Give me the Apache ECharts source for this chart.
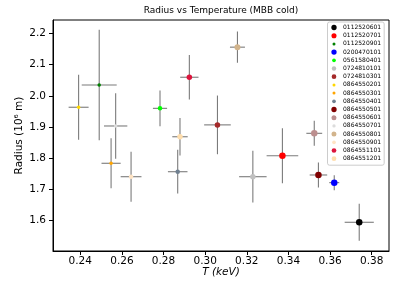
<!DOCTYPE html>
<html>
<head>
<meta charset="utf-8">
<script src="https://cdn.jsdelivr.net/npm/echarts@6/dist/echarts.min.js"></script>
<style>
html,body{margin:0;padding:0;background:#fff;}
#chart{width:395px;height:282px;}
</style>
</head>
<body>
<div id="chart"></div>
<script>
// ---- data ----
const obsIds = ['0112520601','0112520701','0112520901','0200470101','0561580401','0724810101','0724810301','0864550201','0864550301','0864550401','0864550501','0864550601','0864550701','0864550801','0864550901','0864551101','0864551201'];
const temperature    = [0.374, 0.3371, 0.2491, 0.362, 0.2783, 0.3229, 0.3059, 0.2392, 0.2548, 0.2868, 0.3544, 0.3524, 0.2570, 0.3155, 0.2644, 0.2924, 0.2879];
const temperatureErr = [0.007, 0.0076, 0.0084, 0.0024, 0.0034, 0.0066, 0.0064, 0.0048, 0.0046, 0.0047, 0.0042, 0.0038, 0.0056, 0.0036, 0.0050, 0.0044, 0.0037];
const radius         = [1.595, 1.808, 2.035, 1.722, 1.960, 1.741, 1.907, 1.9635, 1.784, 1.757, 1.7465, 1.880, 1.9035, 2.156, 1.741, 2.0596, 1.869];
const radiusErr      = [0.059, 0.088, 0.177, 0.024, 0.057, 0.083, 0.094, 0.104, 0.080, 0.070, 0.040, 0.040, 0.105, 0.050, 0.080, 0.071, 0.060];
const xTicks = [0.24, 0.26, 0.28, 0.30, 0.32, 0.34, 0.36, 0.38];
const yTicks = [1.6, 1.7, 1.8, 1.9, 2.0, 2.1, 2.2];

// ---- styles ----
const pointColors = ['#000000','#ff0000','#008000','#0000ff','#00ff00','#c0c0c0','#a52a2a','#ffd700','#ffa500','#708090','#800000','#bc8f8f','#dcdcdc','#d2b48c','#ffe4c4','#dc143c','#ffdead'];
const markerSizes = [6.5, 6.5, 3.5, 6.5, 4.5, 5.5, 5.5, 3.5, 3.5, 4.5, 6.5, 6.5, 3.5, 6, 4.5, 5.5, 5.5];
const legendSizes = [5.3, 5.1, 3.0, 5.3, 3.7, 4.4, 4.7, 3.0, 3.0, 3.7, 5.3, 5.0, 3.3, 5.0, 3.7, 4.7, 4.7];

const FONT = 'DejaVu Sans';

function legendIcon(d) {
  const r = d / 1.4;
  const a = (5 - r).toFixed(3), b = (5 + r).toFixed(3), rr = r.toFixed(3);
  return 'path://M0 0M10 10M' + a + ' 5A' + rr + ' ' + rr + ' 0 1 0 ' + b + ' 5A' + rr + ' ' + rr + ' 0 1 0 ' + a + ' 5Z';
}

const chart = echarts.init(document.getElementById('chart'), null, {renderer: 'canvas'});

const errData = obsIds.map((id, i) => [temperature[i], radius[i], temperatureErr[i], radiusErr[i]]);

const series = [{
  type: 'custom',
  name: 'errors',
  z: 1,
  silent: true,
  encode: {x: 0, y: 1},
  data: errData,
  renderItem: function (params, api) {
    const t = api.value(0), r = api.value(1), te = api.value(2), re = api.value(3);
    const pL = api.coord([t - te, r]), pR = api.coord([t + te, r]);
    const pT = api.coord([t, r + re]), pB = api.coord([t, r - re]);
    const style = {stroke: 'rgba(100,100,100,0.85)', lineWidth: 1.1};
    return {
      type: 'group',
      children: [
        {type: 'line', shape: {x1: pL[0], y1: pL[1], x2: pR[0], y2: pR[1]}, style: style},
        {type: 'line', shape: {x1: pT[0], y1: pT[1], x2: pB[0], y2: pB[1]}, style: style}
      ]
    };
  }
}];

obsIds.forEach((id, i) => {
  series.push({
    type: 'scatter',
    name: id,
    z: 2,
    symbol: 'circle',
    symbolSize: markerSizes[i],
    itemStyle: {color: pointColors[i], opacity: 1},
    emphasis: {disabled: true},
    data: [[temperature[i], radius[i]]]
  });
});

const option = {
  animation: false,
  backgroundColor: '#fff',
  title: {
    text: 'Radius vs Temperature (MBB cold)',
    left: 221,
    top: 6,
    padding: 0,
    textAlign: 'center',
    textStyle: {fontFamily: FONT, fontSize: 9, fontWeight: 'normal', color: '#000'}
  },
  grid: {
    left: 53, top: 20, right: 6, bottom: 31,
    containLabel: false,
    outerBoundsMode: 'none',
    show: true, borderColor: '#000', borderWidth: 1, backgroundColor: 'transparent'
  },
  legend: {
    orient: 'vertical',
    left: 327.5,
    top: 22,
    padding: [2, 3, 3, 3],
    itemWidth: 10,
    itemHeight: 7,
    itemGap: 1.2,
    borderColor: '#cccccc',
    borderWidth: 1,
    borderRadius: 2,
    backgroundColor: 'rgba(255,255,255,0.8)',
    textStyle: {fontFamily: FONT, fontSize: 6, color: '#000', lineHeight: 7, padding: [0, 0, 0, -1]},
    data: obsIds.map((id, i) => ({name: id, icon: legendIcon(legendSizes[i])}))
  },
  xAxis: {
    type: 'value',
    min: 0.2269,
    max: 0.3883,
    name: 'T (keV)',
    nameLocation: 'middle',
    nameMoveOverlap: false,
    nameGap: 16,
    nameTextStyle: {fontFamily: FONT, fontSize: 10.5, fontStyle: 'italic', color: '#000'},
    axisLine: {show: true, onZero: false, lineStyle: {color: '#000', width: 1}},
    axisTick: {show: true, length: 4, customValues: xTicks, lineStyle: {color: '#000'}},
    axisLabel: {
      customValues: xTicks,
      margin: 5,
      fontFamily: FONT, fontSize: 10.5, color: '#000',
      formatter: v => v.toFixed(2)
    },
    splitLine: {show: false}
  },
  yAxis: {
    type: 'value',
    min: 1.503,
    max: 2.243,
    name: 'Radius (10\u2076 m)',
    nameLocation: 'middle',
    nameMoveOverlap: false,
    nameGap: 28,
    nameRotate: 90,
    nameTextStyle: {fontFamily: FONT, fontSize: 10.5, color: '#000'},
    axisLine: {show: true, onZero: false, lineStyle: {color: '#000', width: 1}},
    axisTick: {show: true, length: 4, customValues: yTicks, lineStyle: {color: '#000'}},
    axisLabel: {
      customValues: yTicks,
      margin: 7,
      fontFamily: FONT, fontSize: 10.5, color: '#000',
      formatter: v => v.toFixed(1)
    },
    splitLine: {show: false}
  },
  series: series
};

chart.setOption(option);
</script>
</body>
</html>
